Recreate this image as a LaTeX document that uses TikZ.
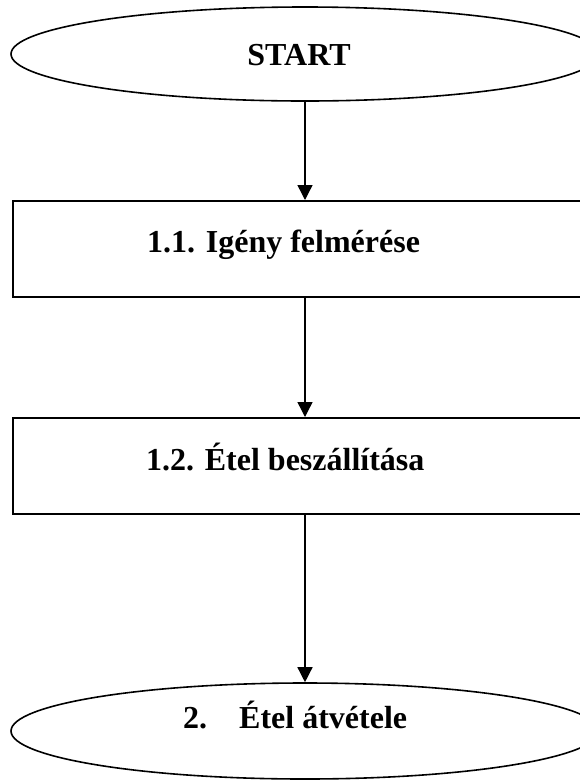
\documentclass[tikz,border=0pt]{standalone}
\usepackage{fontspec}
\setmainfont{Liberation Serif}
\usetikzlibrary{arrows.meta,shapes.geometric}
\begin{document}
\begin{tikzpicture}[x=1pt,y=-1pt,
  term/.style={draw,line width=1.6pt,ellipse,inner sep=0pt,minimum width=588pt,minimum height=94pt},
  procbox/.style={draw,line width=1.6pt,rectangle,inner sep=0pt,minimum width=600pt,minimum height=96pt,anchor=north west},
  lbl/.style={font=\fontsize{32}{38}\selectfont\bfseries,inner sep=0pt},
  flow/.style={line width=1.4pt,-{Triangle[length=15pt,width=15pt]}}]
\useasboundingbox (0,0) rectangle (579,780);
\fill[white] (0,0) rectangle (579,780);
\node[term] (start) at (305,54) {};
\node[lbl,anchor=base] (startt) at (299,65) {START};
\node[procbox] (b1) at (12,200) {};
\node[lbl,anchor=base west] (b1t) at (147,252) {1.1. Igény felmérése};
\node[procbox] (b2) at (12,417) {};
\node[lbl,anchor=base west] (b2t) at (146,470) {1.2. Étel beszállítása};
\node[term,minimum height=96pt] (end) at (305,731) {};
\node[lbl,anchor=base west] (endn) at (183,728) {2.};
\node[lbl,anchor=base west] (endt) at (239,728) {Étel átvétele};
\draw[flow] (start.south) -- (b1.north -| start.south);
\draw[flow] (b1.south -| start.south) -- (b2.north -| start.south);
\draw[flow] (b2.south -| start.south) -- (end.north);
\end{tikzpicture}
\end{document}
